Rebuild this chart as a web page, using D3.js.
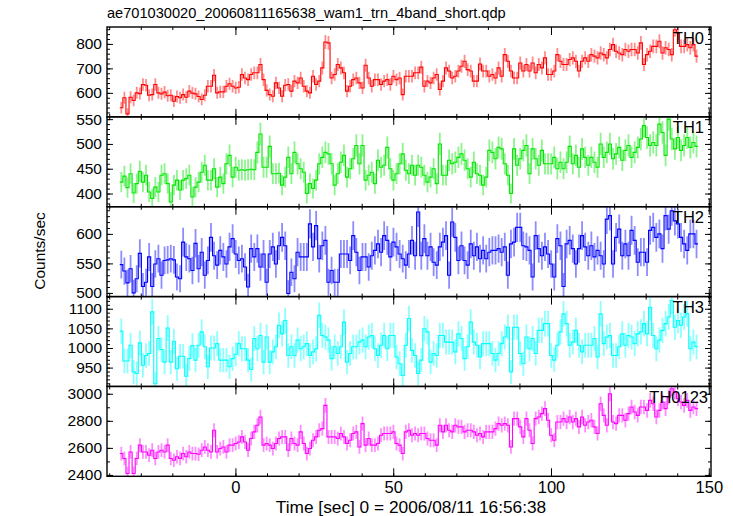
<!DOCTYPE html>
<html><head><meta charset="utf-8">
<script src="https://cdn.jsdelivr.net/npm/d3@7"></script>
<style>
body{margin:0;background:#fff}
svg{display:block}
text{font-family:"Liberation Sans",Arial,Helvetica,sans-serif;fill:#000}
</style>
</head><body>
<svg id="chart" width="733" height="516"></svg>
<script>
// ---------------- data ----------------
const titleText = "ae701030020_20060811165638_wam1_trn_4band_short.qdp";
const xAxisLabel = "Time [sec] 0 = 2006/08/11 16:56:38";
const yAxisLabel = "Counts/sec";
const bandNames = ["TH0", "TH1", "TH2", "TH3", "TH0123"];
const tStart = -36.66;     // start of first bin (sec)
const binWidth = 0.98;     // bin width (sec)

const th0 = [
539,580,514,582,569,600,597,634,631,590,
593,634,600,596,603,588,590,566,585,580,
593,582,607,599,596,585,573,590,627,627,
672,600,604,604,627,637,627,620,623,675,
661,654,675,682,682,716,654,610,593,586,
641,620,586,631,634,607,648,641,661,627,
607,600,668,634,648,702,808,804,661,675,
716,702,682,607,627,654,661,641,620,713,
661,627,654,654,634,648,654,634,668,654,
661,593,668,668,668,682,682,705,627,648,
641,661,675,614,648,702,689,661,668,689,
709,729,695,689,648,648,718,689,689,668,
675,661,702,668,756,729,689,661,661,722,
689,716,689,722,682,716,702,743,675,675,
689,756,729,716,716,736,743,729,689,729,
743,729,756,750,743,763,756,743,777,797,
770,763,756,777,770,777,777,763,804,716,
756,770,790,790,811,763,784,777,756,858,
845,790,790,797,784,797,750];

const th1 = [
423,435,412,440,401,420,445,423,437,403,
390,413,403,437,440,420,383,417,427,407,
427,430,437,393,413,423,443,457,427,427,
450,413,433,420,460,477,433,453,447,448,
447,448,449,448,483,520,453,453,495,440,
440,441,417,433,473,440,483,460,450,443,
400,420,410,427,460,473,483,480,460,417,
440,463,477,433,450,470,497,460,497,427,
437,443,420,467,453,457,493,450,427,440,
460,480,447,440,457,437,457,453,437,423,
433,450,420,500,437,437,467,460,463,473,
480,467,450,433,463,440,437,417,433,487,
483,470,493,490,460,437,400,490,457,470,
487,497,440,490,470,457,487,460,460,460,
473,450,463,450,463,495,460,477,453,490,
473,457,473,463,453,500,473,483,500,470,
480,493,467,487,497,473,483,493,510,537,
513,497,503,497,540,523,477,550,510,490,
513,487,497,513,493,503,495];

const th2 = [
548,537,517,541,500,524,567,511,518,561,
511,549,558,530,555,556,558,556,527,524,
586,561,558,538,584,541,569,530,555,594,
563,547,572,561,549,578,592,566,555,558,
544,510,575,561,575,544,566,518,566,578,
549,580,594,580,499,535,524,569,561,561,
561,617,578,614,558,580,589,518,538,518,
518,566,566,566,555,597,569,538,561,561,
544,563,572,583,569,597,589,561,586,578,
566,558,547,566,589,563,637,563,592,563,
578,552,547,578,586,597,530,620,594,555,
580,555,547,583,563,578,558,572,558,569,
572,572,575,569,578,530,583,586,611,611,
580,578,572,527,597,575,563,578,566,549,
527,592,580,511,583,589,575,549,575,597,
578,563,580,561,572,563,549,625,631,549,
594,608,563,583,563,606,589,552,569,569,
552,606,611,594,600,575,631,608,639,622,
617,594,583,572,600,600,583];

const th3 = [
1043,967,967,1007,939,935,1013,956,981,986,
1092,909,1024,996,964,1051,964,1017,947,979,
979,928,973,1006,969,1007,1041,1003,952,1000,
1000,1011,969,969,969,952,973,984,1011,998,
998,969,945,1024,998,1032,964,1028,964,990,
1003,1058,1036,1070,981,1003,981,1020,998,1003,
1011,981,990,998,1083,1032,1028,1020,973,1003,
986,1003,1066,964,986,1003,1003,1015,1020,1003,
1028,1032,998,981,1007,1032,998,1032,1032,977,
960,930,1007,1075,994,981,935,969,1049,1041,
964,986,981,1032,1032,1015,1015,1015,990,1036,
1024,973,1003,1066,1015,1007,977,1011,1011,1011,
986,969,986,1011,1028,1053,939,1053,1053,986,
960,1028,998,1024,986,1045,1045,1062,1062,981,
969,1007,1041,1087,1062,1007,1015,1045,1007,990,
1007,1007,1007,1024,977,1087,1011,1028,1032,981,
981,1003,1036,1007,1032,1028,1011,1036,1041,1062,
1036,1104,1032,998,1020,1045,1062,1079,1121,1053,
1070,1058,1079,1087,998,1015,1003];

const th0123 = [
2558,2521,2411,2570,2411,2521,2620,2570,2570,2546,
2583,2521,2570,2583,2570,2620,2521,2509,2534,2521,
2558,2534,2570,2558,2558,2553,2583,2607,2583,2570,
2730,2570,2595,2607,2570,2620,2620,2632,2644,2681,
2644,2583,2669,2718,2767,2828,2620,2632,2620,2595,
2632,2669,2681,2681,2583,2669,2632,2620,2718,2632,
2558,2595,2656,2681,2730,2742,2914,2681,2681,2681,
2669,2706,2681,2632,2656,2706,2718,2607,2779,2620,
2669,2620,2620,2632,2693,2706,2706,2706,2718,2632,
2620,2558,2718,2730,2693,2706,2693,2706,2706,2669,
2656,2656,2620,2767,2718,2767,2730,2718,2767,2755,
2755,2718,2730,2730,2718,2693,2706,2681,2718,2718,
2718,2742,2779,2767,2779,2767,2607,2816,2816,2755,
2681,2816,2730,2632,2816,2828,2853,2890,2804,2693,
2656,2791,2791,2816,2791,2828,2791,2816,2755,2828,
2767,2791,2804,2755,2706,2926,2840,2767,3000,2791,
2779,2840,2840,2804,2853,2902,2865,2840,2902,2902,
2877,2951,2926,2828,2877,2939,2890,2975,3037,3012,
2963,2939,2914,2951,2877,2902,2890];

const bandSeries = [th0, th1, th2, th3, th0123];
const bandColors = ["#ff0000", "#00e600", "#0000ff", "#00ffff", "#ff00ff"];

// axis settings
const xDomain = [-40.7, 150.7];
const xMajorTicks = [0, 50, 100, 150];
const xMinorStep = 10;
const yDomains = [[502, 869], [373.4, 554.6], [493.8, 646], [902, 1131], [2390, 3054]];
const yMajorSteps = [100, 50, 50, 50, 200];
const yMinorSteps = [20, 10, 10, 10, 100];

// ---------------- layout ----------------
const svg = d3.select("#chart");
const L = 107, R = 711, T = 27, B = 476.3;
const nP = bandSeries.length;
const pH = (B - T) / nP;
const FONT = '"Liberation Sans",Arial,sans-serif';
const TICKFS = 15.5;

const x = d3.scaleLinear().domain(xDomain).range([L, R]);
const xMinor = d3.range(Math.ceil(xDomain[0] / xMinorStep) * xMinorStep, xDomain[1], xMinorStep);

svg.append("text").attr("x", L).attr("y", 18).attr("font-size", 14.6).text(titleText);

const MAJ = 6, MIN = 3;

bandSeries.forEach((vals, p) => {
  const top = T + p * pH;
  const y = d3.scaleLinear().domain(yDomains[p]).range([top + pH, top]);
  const col = bandColors[p];
  const clipId = "clip" + p;
  svg.append("clipPath").attr("id", clipId).append("rect")
    .attr("x", L).attr("y", top).attr("width", R - L).attr("height", pH);
  const g = svg.append("g").attr("clip-path", `url(#${clipId})`);

  const pts = vals.map((v, i) => ({t: tStart + i * binWidth, v}));
  // error bars (Poisson error of 1-s counts)
  g.selectAll("line.err").data(pts).enter().append("line")
    .attr("x1", d => x(d.t + binWidth / 2)).attr("x2", d => x(d.t + binWidth / 2))
    .attr("y1", d => y(d.v - Math.sqrt(d.v))).attr("y2", d => y(d.v + Math.sqrt(d.v)))
    .attr("stroke", col).attr("stroke-opacity", 0.45).attr("stroke-width", 1.8);
  // step line
  const stepPts = pts.concat([{t: tStart + vals.length * binWidth, v: vals[vals.length - 1]}]);
  g.append("path").datum(stepPts)
    .attr("d", d3.line().x(d => x(d.t)).y(d => y(d.v)).curve(d3.curveStepAfter))
    .attr("fill", "none").attr("stroke", col).attr("stroke-width", 1.1);

  // frame
  svg.append("rect").attr("x", L).attr("y", top).attr("width", R - L).attr("height", pH)
    .attr("fill", "none").attr("stroke", "#000").attr("stroke-width", 1.4);

  // y ticks
  const yMaj = d3.range(Math.ceil(yDomains[p][0] / yMajorSteps[p]) * yMajorSteps[p], yDomains[p][1], yMajorSteps[p]);
  const yMin = d3.range(Math.ceil(yDomains[p][0] / yMinorSteps[p]) * yMinorSteps[p], yDomains[p][1], yMinorSteps[p]);
  const axL = svg.append("g").attr("transform", `translate(${L},0)`)
    .call(d3.axisRight(y).tickValues(yMin).tickSize(MIN).tickFormat(""));
  const axL2 = svg.append("g").attr("transform", `translate(${L},0)`)
    .call(d3.axisRight(y).tickValues(yMaj).tickSize(MAJ).tickFormat(""));
  const axR = svg.append("g").attr("transform", `translate(${R},0)`)
    .call(d3.axisLeft(y).tickValues(yMin).tickSize(MIN).tickFormat(""));
  const axR2 = svg.append("g").attr("transform", `translate(${R},0)`)
    .call(d3.axisLeft(y).tickValues(yMaj).tickSize(MAJ).tickFormat(""));
  const axLab = svg.append("g").attr("transform", `translate(${L},0)`)
    .call(d3.axisLeft(y).tickValues(yMaj).tickSize(0).tickPadding(5).tickFormat(d3.format("d")));
  axLab.selectAll("text").attr("font-size", TICKFS).attr("fill", "#000").attr("font-family", FONT);

  // x ticks (top and bottom of each panel)
  const axB = svg.append("g").attr("transform", `translate(0,${top + pH})`)
    .call(d3.axisTop(x).tickValues(xMinor).tickSize(MIN).tickFormat(""));
  const axB2 = svg.append("g").attr("transform", `translate(0,${top + pH})`)
    .call(d3.axisTop(x).tickValues(xMajorTicks).tickSize(MAJ + 2).tickFormat(""));
  const axT = svg.append("g").attr("transform", `translate(0,${top})`)
    .call(d3.axisBottom(x).tickValues(xMinor).tickSize(MIN).tickFormat(""));
  const axT2 = svg.append("g").attr("transform", `translate(0,${top})`)
    .call(d3.axisBottom(x).tickValues(xMajorTicks).tickSize(MAJ + 2).tickFormat(""));
  [axL, axL2, axR, axR2, axLab, axB, axB2, axT, axT2].forEach(a => {
    a.select(".domain").remove();
    a.selectAll("line").attr("stroke", "#000").attr("stroke-width", 1);
  });

  // band label
  svg.append("text").attr("x", p === nP - 1 ? 708 : 704).attr("y", top + 16.5).attr("text-anchor", "end")
    .attr("font-size", 16.5).text(bandNames[p]);

  if (p === nP - 1) {
    const axX = svg.append("g").attr("transform", `translate(0,${top + pH})`)
      .call(d3.axisBottom(x).tickValues(xMajorTicks).tickSize(0).tickPadding(5).tickFormat(d3.format("d")));
    axX.select(".domain").remove();
    axX.selectAll("text").attr("font-size", 16.5).attr("fill", "#000").attr("font-family", FONT);
  }
});

svg.append("text").attr("x", 411).attr("y", 513).attr("text-anchor", "middle")
  .attr("font-size", 17.3).text(xAxisLabel);
svg.append("text").attr("transform", "translate(45,251) rotate(-90)").attr("text-anchor", "middle")
  .attr("font-size", 15.5).text(yAxisLabel);
</script>
</body></html>
